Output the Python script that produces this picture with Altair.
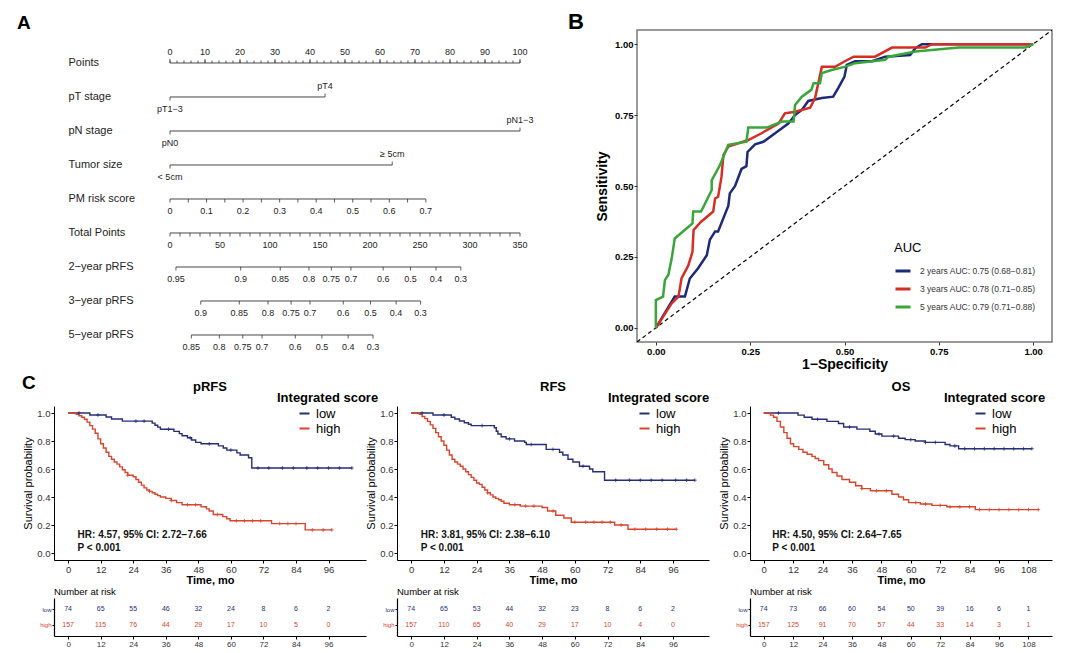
import altair as alt
import pandas as pd

FONT = "Liberation Sans"
NAVY = "#1c2a78"
RED = "#d42f24"
GREEN = "#3aa53a"
KM_LOW = "#252f75"
KM_HIGH = "#d8452d"
INK = "#222222"

# ---------------- Panel A : nomogram ----------------
nomo_rows = ["Points", "pT stage", "pN stage", "Tumor size", "PM risk score",
             "Total Points", "2−year pRFS", "3−year pRFS", "5−year pRFS"]
points_major = [0, 10, 20, 30, 40, 50, 60, 70, 80, 90, 100]
points_minor = list(range(0, 101, 2))
cat_rows = [1, 2, 3]
cat_low_labels = ["pT1−3", "pN0", "< 5cm"]
cat_high_labels = ["pT4", "pN1−3", "≥ 5cm"]
cat_high_points = [44.3, 100.0, 63.5]
pm_ticks = [0, 0.05, 0.1, 0.15, 0.2, 0.25, 0.3, 0.35, 0.4, 0.45, 0.5, 0.55, 0.6, 0.65, 0.7]
pm_labels = ["0", "0.1", "0.2", "0.3", "0.4", "0.5", "0.6", "0.7"]
pm_max_points = 73.1
total_ticks = list(range(0, 351, 10))
total_labels = [0, 50, 100, 150, 200, 250, 300, 350]
y2_labels = ["0.95", "0.9", "0.85", "0.8", "0.75", "0.7", "0.6", "0.5", "0.4", "0.3"]
y2_points = [1.7, 20.2, 31.5, 39.7, 46.1, 51.7, 60.9, 68.7, 76.0, 83.1]
y3_labels = ["0.9", "0.85", "0.8", "0.75", "0.7", "0.6", "0.5", "0.4", "0.3"]
y3_points = [8.8, 19.8, 28.0, 34.6, 40.0, 49.5, 57.3, 64.6, 71.6]
y5_labels = ["0.85", "0.8", "0.75", "0.7", "0.6", "0.5", "0.4", "0.3"]
y5_points = [6.1, 14.1, 20.8, 26.3, 35.8, 43.4, 50.9, 58.0]

# ---------------- Panel B : ROC ----------------
roc_names = ["2 years AUC: 0.75 (0.68−0.81)", "3 years AUC: 0.78 (0.71−0.85)",
             "5 years AUC: 0.79 (0.71−0.88)"]
roc2_fpr = [0, 0.05, 0.077, 0.09, 0.112, 0.135, 0.143, 0.157, 0.165, 0.183, 0.192, 0.196, 0.21,
            0.227, 0.24, 0.243, 0.263, 0.285, 0.316, 0.351, 0.369, 0.387, 0.404, 0.44, 0.47,
            0.484, 0.50, 0.506, 0.528, 0.573, 0.608, 0.674, 0.688, 0.705, 1.0]
roc2_tpr = [0, 0.11, 0.11, 0.174, 0.21, 0.256, 0.31, 0.34, 0.34, 0.40, 0.43, 0.474, 0.50,
            0.56, 0.57, 0.62, 0.647, 0.656, 0.686, 0.72, 0.75, 0.768, 0.80, 0.81, 0.815,
            0.847, 0.886, 0.927, 0.94, 0.94, 0.956, 0.962, 0.986, 1.0, 1.0]
roc3_fpr = [0, 0.042, 0.06, 0.068, 0.086, 0.097, 0.10, 0.12, 0.152, 0.157, 0.165, 0.174, 0.179,
            0.192, 0.245, 0.28, 0.325, 0.342, 0.369, 0.409, 0.422, 0.44, 0.475, 0.50, 0.524,
            0.581, 0.626, 0.714, 0.732, 1.0]
roc3_tpr = [0, 0.086, 0.11, 0.174, 0.22, 0.268, 0.345, 0.374, 0.41, 0.456, 0.462, 0.533, 0.609,
            0.639, 0.662, 0.686, 0.72, 0.756, 0.762, 0.776, 0.81, 0.92, 0.92, 0.939, 0.956,
            0.956, 0.988, 0.988, 1.0, 1.0]
roc5_fpr = [0, 0, 0.019, 0.024, 0.033, 0.042, 0.05, 0.097, 0.099, 0.12, 0.148, 0.148, 0.17,
            0.192, 0.24, 0.245, 0.294, 0.334, 0.365, 0.369, 0.387, 0.412, 0.418, 0.435, 0.44,
            0.466, 0.502, 0.528, 0.608, 0.617, 0.688, 0.803, 0.98, 1.0]
roc5_tpr = [0, 0.098, 0.11, 0.168, 0.186, 0.245, 0.315, 0.368, 0.41, 0.41, 0.486, 0.52, 0.574,
            0.645, 0.656, 0.706, 0.706, 0.727, 0.727, 0.786, 0.815, 0.839, 0.862, 0.862, 0.898,
            0.909, 0.921, 0.933, 0.945, 0.956, 0.974, 0.988, 0.988, 1.0]

# ---------------- Panel C : Kaplan-Meier ----------------
prfs_low_t = [0, 8, 14, 16, 20, 31, 32, 33, 34, 39, 41, 42, 44, 45.5, 47, 49, 55.4, 57.2, 58.5,
              62.2, 63.4, 66.5, 67.7, 104.6]
prfs_low_s = [1.0, 0.986, 0.971, 0.957, 0.942, 0.928, 0.913, 0.899, 0.884, 0.869, 0.853, 0.838,
              0.823, 0.807, 0.79, 0.78, 0.765, 0.75, 0.735, 0.715, 0.70, 0.68, 0.607, 0.607]
prfs_high_t = [0, 3, 4, 5, 6, 7, 8, 9, 10, 11, 12, 13, 14, 15, 16, 17, 18, 19, 20, 21, 22, 24, 25,
               26, 27, 28, 29, 30, 31, 32, 33, 34, 36, 38, 40, 42, 49, 51, 52, 53.5, 57, 58.5,
               59.7, 75, 87.4, 97.2]
prfs_high_s = [1.0, 0.99, 0.98, 0.97, 0.955, 0.935, 0.91, 0.885, 0.855, 0.815, 0.78, 0.75, 0.72,
               0.69, 0.67, 0.65, 0.635, 0.615, 0.595, 0.575, 0.555, 0.545, 0.525, 0.505, 0.485,
               0.465, 0.45, 0.44, 0.43, 0.42, 0.41, 0.40, 0.39, 0.375, 0.36, 0.345, 0.33, 0.315,
               0.30, 0.275, 0.26, 0.245, 0.23, 0.21, 0.165, 0.165]
prfs_low_cens = [4, 11, 25, 28, 37, 45, 52, 60, 70, 74, 79, 83, 88, 92, 96, 100, 104.6]
prfs_high_cens = [22, 30, 38, 44, 47, 55, 62, 65, 68, 71, 78, 81, 84, 90, 94, 97.2]

rfs_low_t = [0, 8, 14.7, 16, 17.7, 19.5, 21, 22, 30.5, 31.2, 31.8, 33, 34.8, 37.9, 41.6, 42.2,
             49.5, 54.4, 55.6, 57.5, 59.3, 61.7, 65.4, 66.6, 70.9, 104]
rfs_low_s = [1.0, 0.986, 0.97, 0.957, 0.943, 0.93, 0.92, 0.91, 0.895, 0.87, 0.85, 0.83, 0.815,
             0.80, 0.79, 0.775, 0.74, 0.72, 0.70, 0.67, 0.65, 0.62, 0.60, 0.58, 0.52, 0.52]
rfs_high_t = [0, 3, 4, 5, 6, 7, 8, 9, 10, 11, 12, 13, 14, 15, 16, 17, 18, 19, 20, 21, 22, 23, 24,
              25, 26, 27, 28, 29, 30, 31, 32, 33, 34, 36, 40, 48, 50, 53, 56, 58.7, 74.6, 79.5,
              97.2]
rfs_high_s = [1.0, 0.99, 0.975, 0.96, 0.94, 0.915, 0.89, 0.86, 0.83, 0.80, 0.77, 0.735, 0.70,
              0.67, 0.65, 0.635, 0.62, 0.60, 0.58, 0.56, 0.54, 0.52, 0.50, 0.49, 0.47, 0.45,
              0.43, 0.415, 0.40, 0.39, 0.38, 0.37, 0.355, 0.345, 0.335, 0.325, 0.30, 0.27, 0.25,
              0.22, 0.20, 0.17, 0.17]
rfs_low_cens = [4, 12, 26, 36, 44, 52, 63, 75, 80, 84, 88, 92, 97, 101, 104]
rfs_high_cens = [28, 38, 42, 45, 52, 60, 64, 67, 70, 73, 77, 82, 86, 90, 94, 97.2]

os_low_t = [0, 14, 16.5, 19.7, 25.8, 30.5, 32.6, 38, 43.3, 45.5, 48.2, 55, 57.7, 61.8, 65.9, 74,
            76, 79.5, 109.4]
os_low_s = [1.0, 0.985, 0.97, 0.955, 0.94, 0.925, 0.90, 0.885, 0.87, 0.85, 0.835, 0.82, 0.81,
            0.80, 0.79, 0.775, 0.765, 0.745, 0.745]
os_high_t = [0, 2.7, 4, 5.4, 6.8, 8.2, 9.5, 10.9, 12.2, 14.3, 16, 17.7, 19.7, 21, 22.4, 24.5,
             26.5, 27.9, 29.9, 31.9, 35, 37.5, 40, 43.5, 52.3, 55, 57, 59.1, 63.9, 68.6, 74.7,
             86.3, 112]
os_high_s = [1.0, 0.985, 0.97, 0.94, 0.9, 0.86, 0.82, 0.78, 0.76, 0.74, 0.72, 0.705, 0.69, 0.675,
             0.66, 0.63, 0.60, 0.575, 0.55, 0.525, 0.505, 0.48, 0.46, 0.445, 0.42, 0.40, 0.38,
             0.36, 0.35, 0.34, 0.33, 0.31, 0.31]
os_low_cens = [6, 22, 35, 47, 53, 60, 66, 70, 78, 82, 86, 90, 94, 98, 102, 106, 109.4]
os_high_cens = [40, 46, 50, 62, 66, 72, 76, 80, 84, 88, 92, 96, 100, 104, 108, 112]

risk_times_96 = [0, 12, 24, 36, 48, 60, 72, 84, 96]
risk_times_108 = [0, 12, 24, 36, 48, 60, 72, 84, 96, 108]
prfs_risk_low = [74, 65, 55, 46, 32, 24, 8, 6, 2]
prfs_risk_high = [157, 115, 76, 44, 29, 17, 10, 5, 0]
rfs_risk_low = [74, 65, 53, 44, 32, 23, 8, 6, 2]
rfs_risk_high = [157, 110, 65, 40, 29, 17, 10, 4, 0]
os_risk_low = [74, 73, 66, 60, 54, 50, 39, 16, 6, 1]
os_risk_high = [157, 125, 91, 70, 57, 44, 33, 14, 3, 1]

# =====================================================================
# Nomogram
lines = [(0, 0, 100), (1, 0, cat_high_points[0]), (2, 0, cat_high_points[1]),
         (3, 0, cat_high_points[2]), (4, 0, pm_max_points), (5, 0, 100),
         (6, y2_points[0], y2_points[-1]), (7, y3_points[0], y3_points[-1]),
         (8, y5_points[0], y5_points[-1])]
lines_df = pd.DataFrame(lines, columns=["row", "x", "x1"])

up_major = pd.DataFrame({"row": 0, "x": points_major})
up_minor = pd.DataFrame({"row": 0, "x": points_minor})
up_cat = pd.DataFrame({"row": cat_rows, "x": cat_high_points})
down_rows, down_x = [], []
for r in cat_rows:
    down_rows.append(r); down_x.append(0)
for v in pm_ticks:
    down_rows.append(4); down_x.append(v / 0.7 * pm_max_points)
for v in total_ticks:
    down_rows.append(5); down_x.append(v / 350 * 100)
for r, pts in [(6, y2_points), (7, y3_points), (8, y5_points)]:
    for p in pts:
        down_rows.append(r); down_x.append(p)
down_df = pd.DataFrame({"row": down_rows, "x": down_x})

above = pd.DataFrame({"row": [0] * len(points_major) + cat_rows,
                      "x": points_major + cat_high_points,
                      "txt": [str(v) for v in points_major] + cat_high_labels})
b_rows, b_x, b_t = [], [], []
for r, lab in zip(cat_rows, cat_low_labels):
    b_rows.append(r); b_x.append(0); b_t.append(lab)
for lab in pm_labels:
    b_rows.append(4); b_x.append(float(lab) / 0.7 * pm_max_points); b_t.append(lab)
for v in total_labels:
    b_rows.append(5); b_x.append(v / 350 * 100); b_t.append(str(v))
for r, pts, labs in [(6, y2_points, y2_labels), (7, y3_points, y3_labels), (8, y5_points, y5_labels)]:
    for p, l in zip(pts, labs):
        b_rows.append(r); b_x.append(p); b_t.append(l)
below = pd.DataFrame({"row": b_rows, "x": b_x, "txt": b_t})

label_expr = "[" + ",".join("'" + n + "'" for n in nomo_rows) + "][datum.value]"
ny = alt.Y("row:Q", scale=alt.Scale(domain=[-0.97, 8.5], reverse=True, nice=False, zero=False),
           axis=alt.Axis(values=list(range(9)), labelExpr=label_expr, labelAlign="left",
                         labelPadding=-14, ticks=False, tickSize=0, domain=False, grid=False,
                         title=None, labelFontSize=11, labelColor=INK, labelBaseline="middle",
                         labelOverlap=False, minExtent=0, maxExtent=0))
nx = alt.X("x:Q", scale=alt.Scale(domain=[-33.14, 100], nice=False, zero=False), axis=None)

n_lines = alt.Chart(lines_df).mark_rule(color="#333", strokeWidth=0.9).encode(
    x=nx, x2="x1:Q", y=ny)
def tick_layer(df, off):
    return alt.Chart(df).mark_rule(color="#333", strokeWidth=0.8, y2Offset=off).encode(
        x=nx, y=ny, y2="row:Q")
n_up_major = tick_layer(up_major, -4)
n_up_minor = tick_layer(up_minor, -2.5)
n_up_cat = tick_layer(up_cat, -3.5)
n_down = tick_layer(down_df, 3.5)
n_above = alt.Chart(above).mark_text(dy=-11, fontSize=9, color=INK).encode(
    x=nx, y=ny, text="txt:N")
n_below = alt.Chart(below).mark_text(dy=12, fontSize=9, color=INK).encode(
    x=nx, y=ny, text="txt:N")

nomogram = alt.layer(n_lines, n_up_major, n_up_minor, n_up_cat, n_down, n_above, n_below).properties(
    width=466, height=322,
    title=alt.TitleParams("A", anchor="start", frame="group", dx=-37, fontSize=19,
                          fontWeight="bold", offset=-3, color="black"))

# =====================================================================
# ROC
roc_rows = []
for name, fx, ty in zip(roc_names, [roc2_fpr, roc3_fpr, roc5_fpr], [roc2_tpr, roc3_tpr, roc5_tpr]):
    for i, (a, b) in enumerate(zip(fx, ty)):
        roc_rows.append((name, a, b, i))
roc_df = pd.DataFrame(roc_rows, columns=["model", "fpr", "tpr", "idx"])
rx = alt.X("fpr:Q", scale=alt.Scale(domain=[-0.05, 1.05], nice=False, zero=False),
           axis=alt.Axis(values=[0, 0.25, 0.5, 0.75, 1.0], format=".2f", title="1−Specificity",
                         labelFontSize=9.5, labelFontWeight="bold", labelColor="black",
                         tickColor="#333", tickSize=3, labelPadding=1, domain=False, grid=False,
                         titleFontSize=14, titleFontWeight="bold", titleColor="black",
                         titlePadding=2))
ry = alt.Y("tpr:Q", scale=alt.Scale(domain=[-0.05, 1.05], nice=False, zero=False),
           axis=alt.Axis(values=[0, 0.25, 0.5, 0.75, 1.0], format=".2f", title="Sensitivity",
                         labelFontSize=9.5, labelFontWeight="bold", labelColor="black",
                         tickColor="#333", tickSize=3, labelPadding=1, domain=False, grid=False,
                         titleFontSize=14, titleFontWeight="bold", titleColor="black",
                         titlePadding=5))
diag = alt.Chart(pd.DataFrame({"fpr": [-0.05, 1.05], "tpr": [-0.05, 1.05]})).mark_line(
    color="black", strokeDash=[4, 3], strokeWidth=1.2, clip=True).encode(x=rx, y=ry)
roc_lines = alt.Chart(roc_df).mark_line(strokeWidth=2.5).encode(
    x=rx, y=ry, order="idx:Q",
    color=alt.Color("model:N", scale=alt.Scale(domain=roc_names, range=[NAVY, RED, GREEN]),
                    legend=alt.Legend(title="AUC", orient="none", legendX=257, legendY=212,
                                      titleFontSize=13, titleFontWeight="normal",
                                      titleColor="black", labelFontSize=8.5, labelColor="#333",
                                      symbolType="stroke", symbolStrokeWidth=3, symbolSize=225,
                                      rowPadding=3, titlePadding=7, labelOffset=8)))
roc = alt.layer(diag, roc_lines).properties(
    width=415, height=312,
    view=alt.ViewBackground(stroke="#7a7a7a", strokeWidth=1.5),
    title=alt.TitleParams("B", anchor="start", frame="group", dx=-69, fontSize=22,
                          fontWeight="bold", offset=-4, color="black"))

# =====================================================================
# KM panels
def step_value(ts, ss, t):
    v = ss[0]
    for a, b in zip(ts, ss):
        if a <= t:
            v = b
    return v

def km_panel(title, lt, ls, ht, hs, lc, hc, xdom, ticks, width, hr, legx, symoff,
             risk_low, risk_high):
    curve = pd.DataFrame({"time": lt + ht, "surv": ls + hs,
                          "group": ["low"] * len(lt) + ["high"] * len(ht)})
    cens = pd.DataFrame({"time": lc + hc,
                         "surv": [step_value(lt, ls, t) for t in lc] + [step_value(ht, hs, t) for t in hc],
                         "group": ["low"] * len(lc) + ["high"] * len(hc)})
    cscale = alt.Scale(domain=["low", "high"], range=[KM_LOW, KM_HIGH])
    x = alt.X("time:Q", scale=alt.Scale(domain=xdom, nice=False, zero=False),
              axis=alt.Axis(values=ticks, title="Time, mo", labelFontSize=9.5, labelColor="#333",
                            tickColor="black", tickSize=3, labelPadding=1, domainColor="black",
                            domainWidth=1, grid=False, titleFontSize=11, titleFontWeight="bold",
                            titleColor="black", titlePadding=1, labelFlush=False))
    y = alt.Y("surv:Q", scale=alt.Scale(domain=[-0.05, 1.05], nice=False, zero=False),
              axis=alt.Axis(values=[0, 0.2, 0.4, 0.6, 0.8, 1.0], format=".1f",
                            title="Survival probability", labelFontSize=9.5, labelColor="#333",
                            tickColor="black", tickSize=3, labelPadding=1, domainColor="black",
                            domainWidth=1, grid=False, titleFontSize=11, titleFontWeight="normal",
                            titleColor="black", titlePadding=3, minExtent=18, maxExtent=18))
    lines_ = alt.Chart(curve).mark_line(interpolate="step-after", strokeWidth=1.4).encode(
        x=x, y=y,
        color=alt.Color("group:N", scale=cscale,
                        legend=alt.Legend(title="Integrated score", orient="none", legendX=legx,
                                          legendY=-14, titleFontSize=13, titleFontWeight="bold",
                                          titleColor="black", labelFontSize=13, labelColor="black",
                                          symbolType="stroke", symbolStrokeWidth=2,
                                          symbolSize=100, symbolOffset=symoff, rowPadding=1,
                                          titlePadding=2, labelOffset=5)))
    marks = alt.Chart(cens).mark_point(shape="M-1,0L1,0M0,-1L0,1", size=14, filled=False,
                                       strokeWidth=0.8, opacity=1).encode(
        x=x, y=y, color=alt.Color("group:N", scale=cscale, legend=None))
    txt = alt.Chart(pd.DataFrame({"time": [3.5], "surv": [0.132], "txt": [hr]})).mark_text(
        align="left", baseline="middle", fontSize=10, fontWeight="bold", color="#111",
        lineBreak="\n", lineHeight=13).encode(x=x, y=y, text="txt:N")
    km = alt.layer(lines_, marks, txt).properties(
        width=width, height=154,
        title=alt.TitleParams(title, anchor="middle", frame="group", fontSize=13,
                              fontWeight="bold", offset=-2, color="black"))
    n = len(risk_low)
    rdf = pd.DataFrame({"time": ticks[:n] * 2, "group": ["low"] * n + ["high"] * n,
                        "n": risk_low + risk_high})
    table = alt.Chart(rdf).mark_text(fontSize=7).encode(
        x=alt.X("time:Q", scale=alt.Scale(domain=xdom, nice=False, zero=False),
                axis=alt.Axis(values=ticks, title=None, labelFontSize=8, labelColor="#333",
                              tickColor="black", tickSize=3, labelPadding=1, domainColor="black",
                              domainWidth=1.2, grid=False, labelFlush=False)),
        y=alt.Y("group:N", scale=alt.Scale(domain=["low", "high"], padding=0.7),
                axis=alt.Axis(title=None, labelFontSize=6,
                              labelColor={"condition": {"test": "datum.value === 'low'",
                                                        "value": KM_LOW}, "value": KM_HIGH},
                              tickColor="black", tickSize=2, labelPadding=1, domainColor="black",
                              domainWidth=1.2, grid=False)),
        text="n:Q",
        color=alt.Color("group:N", scale=cscale, legend=None)).properties(
        width=width, height=38,
        title=alt.TitleParams("Number at risk", anchor="start", frame="group", fontSize=9.5,
                              fontWeight="normal", offset=2, color="black"))
    return alt.vconcat(km, table, spacing=0).resolve_scale(color="independent").resolve_legend(
        color="independent")

p1 = km_panel("pRFS", prfs_low_t, prfs_low_s, prfs_high_t, prfs_high_s, prfs_low_cens,
              prfs_high_cens, [-5.2, 109.8], risk_times_96, 312,
              "HR: 4.57, 95% CI: 2.72−7.66\nP < 0.001", 223, 21, prfs_risk_low, prfs_risk_high)
p2 = km_panel("RFS", rfs_low_t, rfs_low_s, rfs_high_t, rfs_high_s, rfs_low_cens,
              rfs_high_cens, [-5.2, 109.2], risk_times_96, 312,
              "HR: 3.81, 95% CI: 2.38−6.10\nP < 0.001", 211, 30, rfs_risk_low, rfs_risk_high)
p3 = km_panel("OS", os_low_t, os_low_s, os_high_t, os_high_s, os_low_cens,
              os_high_cens, [-5.6, 117.6], risk_times_108, 302,
              "HR: 4.50, 95% CI: 2.64−7.65\nP < 0.001", 194, 30, os_risk_low, os_risk_high)

def indep(c):
    return c.resolve_scale(color="independent").resolve_legend(color="independent")

p12 = indep(alt.hconcat(p1, p2, spacing=-14))
bottom = indep(alt.hconcat(p12, p3, spacing=8)).properties(
    title=alt.TitleParams("C", anchor="start", frame="group", dx=-32, fontSize=19,
                          fontWeight="bold", color="black", offset=-12))
top = indep(alt.hconcat(nomogram, roc, spacing=33))

chart = indep(alt.vconcat(top, bottom, spacing=1)).properties(
    padding={"left": 9, "top": 2, "right": 0, "bottom": 0}
).configure(font=FONT).configure_view(stroke=None).configure_title(font=FONT).configure_axis(
    labelFont=FONT, titleFont=FONT, labelOverlap=False).configure_legend(
    labelFont=FONT, titleFont=FONT)

chart.save("out.html", embed_options={"renderer": "svg", "actions": False})
